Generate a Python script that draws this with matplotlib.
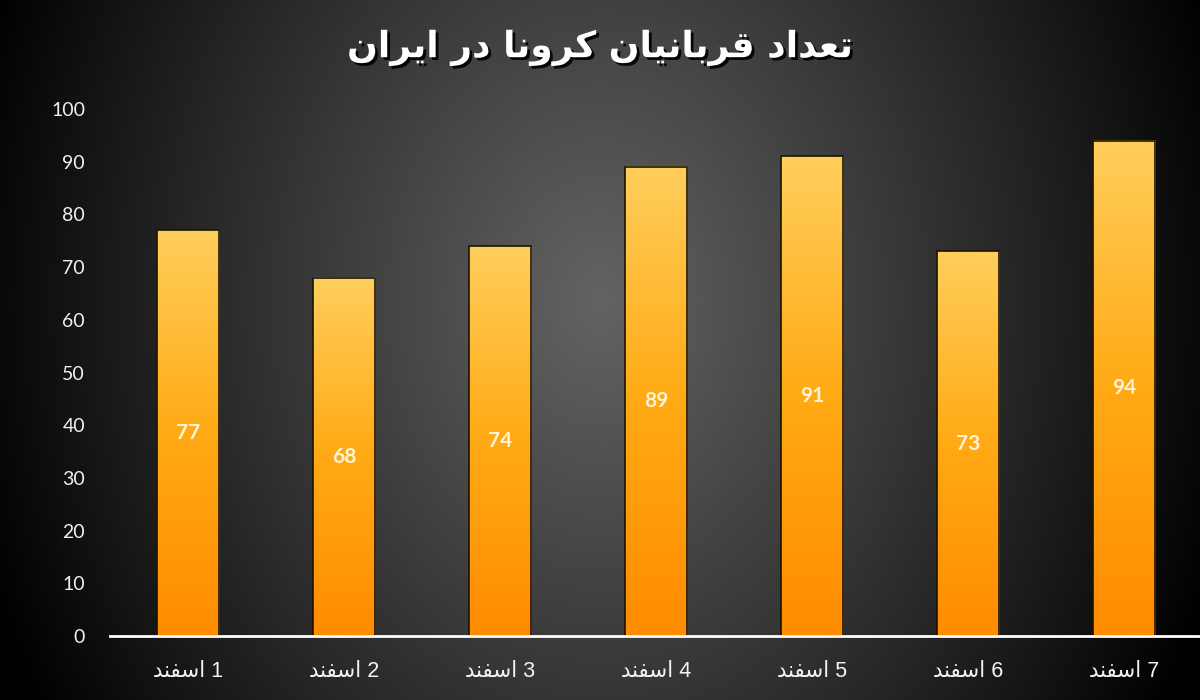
import numpy as np
import matplotlib
matplotlib.use("Agg")
import matplotlib.pyplot as plt
import matplotlib.patheffects as pe
from matplotlib.colors import LinearSegmentedColormap

# داده ها
days = ["1 اسفند", "2 اسفند", "3 اسفند", "4 اسفند", "5 اسفند", "6 اسفند", "7 اسفند"]
victims = [77, 68, 74, 89, 91, 73, 94]
title = "تعداد قربانیان کرونا در ایران"
yticks = list(range(0, 101, 10))

# matplotlib no shaping for arabic script -> presentation forms (iso, fin, ini, med)
FORMS = {
    'ا': ('\uFE8D', '\uFE8E', None, None),
    'ب': ('\uFE8F', '\uFE90', '\uFE91', '\uFE92'),
    'ت': ('\uFE95', '\uFE96', '\uFE97', '\uFE98'),
    'د': ('\uFEA9', '\uFEAA', None, None),
    'ر': ('\uFEAD', '\uFEAE', None, None),
    'س': ('\uFEB1', '\uFEB2', '\uFEB3', '\uFEB4'),
    'ع': ('\uFEC9', '\uFECA', '\uFECB', '\uFECC'),
    'ف': ('\uFED1', '\uFED2', '\uFED3', '\uFED4'),
    'ق': ('\uFED5', '\uFED6', '\uFED7', '\uFED8'),
    'ن': ('\uFEE5', '\uFEE6', '\uFEE7', '\uFEE8'),
    'و': ('\uFEED', '\uFEEE', None, None),
    'ی': ('\uFBFC', '\uFBFD', '\uFBFE', '\uFBFF'),
    'ک': ('\uFB8E', '\uFB8F', '\uFB90', '\uFB91'),
}


def shape(word):
    out = []
    for i, ch in enumerate(word):
        f = FORMS.get(ch)
        if f is None:
            out.append(ch)
            continue
        prev = word[i - 1] if i > 0 else None
        nxt = word[i + 1] if i + 1 < len(word) else None
        jp = prev in FORMS and FORMS[prev][2] is not None
        jn = f[2] is not None and nxt in FORMS
        if jp and jn:
            out.append(f[3])
        elif jp:
            out.append(f[1])
        elif jn:
            out.append(f[2])
        else:
            out.append(f[0])
    return ''.join(reversed(out))


def rtl(text):
    words = text.split(' ')
    res = []
    for w in reversed(words):
        if any('\u0600' <= c <= '\u06ff' for c in w):
            res.append(shape(w))
        else:
            res.append(w)
    return ' '.join(res)


fig = plt.figure(figsize=(12, 7), dpi=100)

# radial background
bg = fig.add_axes([0, 0, 1, 1], zorder=-5)
yy, xx = np.mgrid[0:700, 0:1200]
r = np.sqrt(((xx - 600) / 650.0) ** 2 + ((yy - 300) / 820.0) ** 2)
v = 0.39 * np.clip(1 - r, 0, 1) ** 0.95
bg.imshow(np.dstack([v, v, v]), aspect='auto', extent=[0, 1, 0, 1], origin='upper')
bg.axis('off')

ax = fig.add_axes([110 / 1200, 64 / 700, 1092 / 1200, 527 / 700])
ax.set_facecolor('none')

x = np.arange(len(victims))
bars = ax.bar(x, victims, width=0.4, facecolor='none', edgecolor='#1c1400', linewidth=1.2, zorder=3)

cmap = LinearSegmentedColormap.from_list('bar', ['#FF8C00', '#FFAA14', '#FFCE5C'])
grad = np.linspace(1, 0, 256).reshape(-1, 1)
for b in bars:
    ax.imshow(grad, cmap=cmap, vmin=0, vmax=1, aspect='auto', zorder=2,
              extent=[b.get_x(), b.get_x() + b.get_width(), 0, b.get_height()])

ax.bar_label(bars, label_type='center', color='#FFF4D6', fontsize=15, family='Lato',
             weight='bold', zorder=4)

ax.set_xlim(-0.5, len(victims) - 0.5)
ax.set_ylim(0, 100)
ax.set_yticks(yticks)
ax.set_yticklabels([str(t) for t in yticks], family='Lato', fontsize=14, color='#F0F0F0')
ax.set_xticks(x)
ax.set_xticklabels([rtl(d) for d in days], family=['Liberation Sans', 'DejaVu Sans'],
                   fontsize=15.5, color='#F4F4F4')
ax.tick_params(axis='both', length=0)
ax.tick_params(axis='y', pad=18)
ax.tick_params(axis='x', pad=18)

for s in ['top', 'right', 'left']:
    ax.spines[s].set_visible(False)
ax.spines['bottom'].set_color('white')
ax.spines['bottom'].set_linewidth(2)
ax.spines['bottom'].set_zorder(5)

fig.text(0.5, 1 - 48 / 700, rtl(title), ha='center', va='center', fontsize=26,
         weight='bold', color='white', family='DejaVu Sans',
         path_effects=[pe.withSimplePatchShadow(offset=(2, -2), shadow_rgbFace='black', alpha=0.9)])

fig.savefig('out.png', dpi=100)
